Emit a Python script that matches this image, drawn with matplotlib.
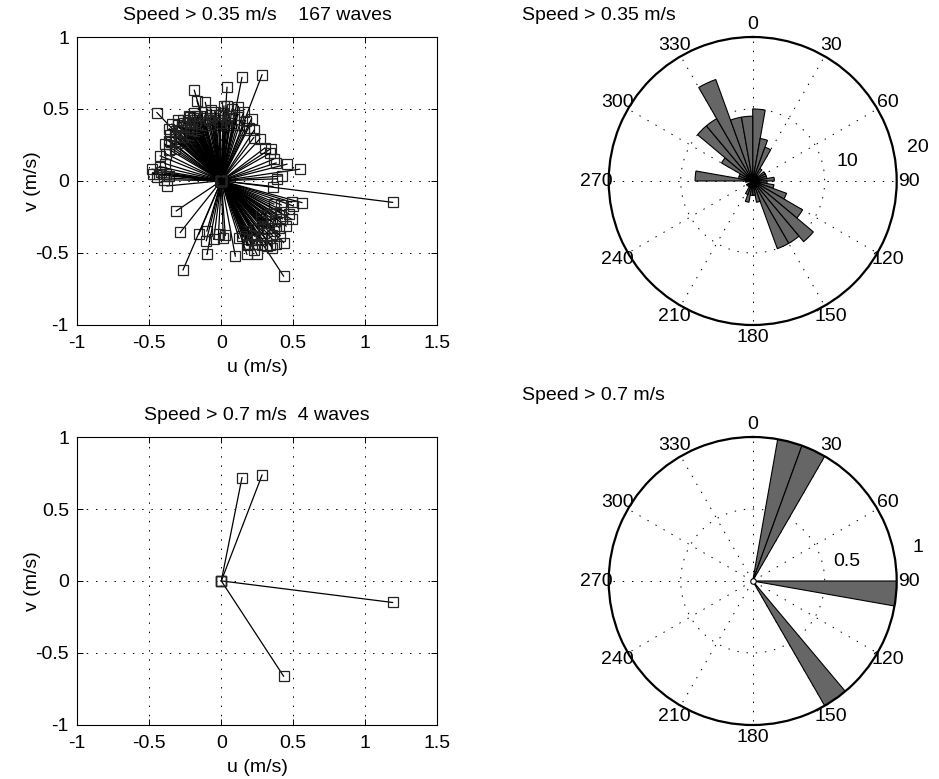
import numpy as np
import matplotlib
matplotlib.use("Agg")
import matplotlib.pyplot as plt

plt.rcParams['font.family'] = ['Liberation Sans', 'DejaVu Sans']
plt.rcParams['axes.unicode_minus'] = False

# Wave propagation direction (deg, clockwise from north) and speed (m/s),
# grouped by 10-degree direction bin.
direction = [
    3.5, 4.4, 8.5, 1.5, 3, 5, 6, 7.5, 2, 9,                       # 0-10
    11.3, 12, 14, 16, 18, 13,                                     # 10-20
    21, 27.2, 22, 24, 26,                                         # 20-30
    36.9, 33,                                                     # 30-40
    42.6,                                                         # 40-50
    53, 57,                                                       # 50-60
    60.4, 67.5,                                                   # 60-70
    75.8, 72,                                                     # 70-80
    81.6, 85.4, 88,                                               # 80-90
    96.4, 97.2,                                                   # 90-100
    105.2, 109.3, 107,                                            # 100-110
    118.7, 112, 114, 116, 118,                                    # 110-120
    123.5, 121, 122, 124, 125, 127, 128, 129,                     # 120-130
    134.8, 133.9, 131, 132, 133, 135, 136, 137, 138, 139, 131.5,  # 130-140
    146.9, 142.9, 141, 142.5, 143, 145, 146, 147, 148, 149,       # 140-150
    154.2, 151, 152, 153, 154, 155, 156, 157, 158, 159,           # 150-160
    169.5, 160.8, 163,                                            # 160-170
    175.8, 178,                                                   # 170-180
    187.4, 183,                                                   # 180-190
    196.0, 191.0, 194,                                            # 190-200
    202.8, 203.2,                                                 # 200-210
    218.4,                                                        # 210-220
    236.1,                                                        # 230-240
    264.5,                                                        # 260-270
    279.5, 275.3, 275.9, 271, 273, 276, 278, 277,                 # 270-280
    283, 287,                                                     # 280-290
    292.2, 296,                                                   # 290-300
    307.1, 301, 303, 305, 308,                                    # 300-310
    316.7, 319.0, 311, 312, 313, 314, 315, 317, 318, 319.5,       # 310-320
    327.3, 321, 322, 323, 324, 325, 326, 327, 328, 329,           # 320-330
    334.0, 330.5, 331, 332, 333, 333.5, 334.5, 335, 336, 336.5,
    337, 338, 338.5, 339, 339.5,                                  # 330-340
    343.4, 343.1, 348.5, 341, 342, 344, 345, 347, 349,            # 340-350
    350.5, 351, 352, 353, 354, 355, 357, 358, 359,                # 350-360
]
speed = [
    0.651, 0.522, 0.503, 0.47, 0.42, 0.39, 0.45, 0.44, 0.52, 0.41,
    0.733, 0.44, 0.47, 0.40, 0.50, 0.53,
    0.79, 0.416, 0.45, 0.39, 0.48,
    0.375, 0.42,
    0.399,
    0.38, 0.41,
    0.392, 0.393,
    0.470, 0.40,
    0.550, 0.422, 0.39,
    0.361, 1.199,
    0.580, 0.530, 0.51,
    0.558, 0.45, 0.40, 0.52, 0.47,
    0.486, 0.44, 0.50, 0.41, 0.55, 0.47, 0.39, 0.52,
    0.610, 0.504, 0.43, 0.49, 0.56, 0.40, 0.46, 0.52, 0.44, 0.58, 0.37,
    0.792, 0.584, 0.47, 0.56, 0.42, 0.55, 0.49, 0.40, 0.53, 0.45,
    0.569, 0.43, 0.50, 0.46, 0.39, 0.53, 0.44, 0.48, 0.48, 0.41,
    0.533, 0.542, 0.42,
    0.381, 0.40,
    0.411, 0.37,
    0.364, 0.522, 0.43,
    0.405, 0.675,
    0.459,
    0.377,
    0.379,
    0.487, 0.368, 0.437, 0.40, 0.45, 0.48, 0.42, 0.39,
    0.44, 0.41,
    0.458, 0.43,
    0.459, 0.42, 0.47, 0.39, 0.44,
    0.652, 0.522, 0.42, 0.48, 0.39, 0.45, 0.51, 0.43, 0.47, 0.40,
    0.481, 0.44, 0.49, 0.41, 0.46, 0.52, 0.38, 0.45, 0.50, 0.42,
    0.490, 0.43, 0.47, 0.40, 0.45, 0.50, 0.38, 0.44, 0.48, 0.41,
    0.46, 0.51, 0.39, 0.44, 0.48,
    0.657, 0.581, 0.556, 0.42, 0.47, 0.40, 0.45, 0.49, 0.43,
    0.41, 0.46, 0.50, 0.39, 0.44, 0.48, 0.42, 0.46, 0.40,
]

speed_limits = [0.35, 0.7]
rose_rings = [[10, 20], [0.5, 1]]
bin_width = 10
u_ticks = [-1, -0.5, 0, 0.5, 1, 1.5]
v_ticks = [-1, -0.5, 0, 0.5, 1]
angle_ticks = list(range(0, 360, 30))

direction = np.asarray(direction, float)
speed = np.asarray(speed, float)
u_all = speed * np.sin(np.deg2rad(direction))
v_all = speed * np.cos(np.deg2rad(direction))

W, H = 939, 779
fig = plt.figure(figsize=(W / 100, H / 100), dpi=100)


def px_axes(left, top, right, bottom, **kw):
    return fig.add_axes([left / W, 1 - bottom / H, (right - left) / W,
                         (bottom - top) / H], **kw)


DOT = (0, (1.5, 8))
FS = 14


def vector_panel(ax, u, v, title):
    ax.grid(True, linestyle=DOT, color='k', lw=0.7, zorder=0)
    ax.set_axisbelow(True)
    for ui, vi in zip(u, v):
        ax.plot([0, ui], [0, vi], color='k', lw=0.9, marker='s', ms=6.5,
                mfc='none', mec='#222222', mew=0.9, zorder=2)
    ax.set_xlim(-1, 1.5)
    ax.set_ylim(-1, 1)
    ax.set_xticks(u_ticks)
    ax.set_yticks(v_ticks)
    ax.set_xticklabels([f"{t:g}" for t in u_ticks])
    ax.set_yticklabels([f"{t:g}" for t in v_ticks])
    ax.tick_params(direction='in', top=True, right=True, length=4,
                   width=0.7, labelsize=FS)
    ax.tick_params(axis='x', pad=7.5)
    ax.tick_params(axis='y', pad=6)
    for s in ax.spines.values():
        s.set_linewidth(0.8)
    ax.set_xlabel('u (m/s)', fontsize=FS, labelpad=5)
    ax.set_ylabel('v (m/s)', fontsize=FS, labelpad=-4)
    ax.text(0.5, 1 + 22 / 287.5, title, transform=ax.transAxes,
            ha='center', va='center', fontsize=FS)


def rose_panel(ax, dirs, rings, center_mark):
    rmax = rings[-1]
    edges = np.arange(0, 360 + bin_width, bin_width)
    counts, _ = np.histogram(np.mod(dirs, 360), bins=edges)
    ax.set_theta_zero_location('N')
    ax.set_theta_direction(-1)
    ax.grid(False)
    ax.set_xticks([])
    ax.set_yticks([])
    ax.spines['polar'].set_linewidth(1.6)
    t = np.linspace(0, 2 * np.pi, 400)
    for r in rings[:-1]:
        ax.plot(t, np.full_like(t, r), ls=DOT, color='k', lw=0.7, zorder=1)
    for a in angle_ticks:
        ax.plot([np.deg2rad(a)] * 2, [0, rmax], ls=DOT, color='k', lw=0.7,
                zorder=1)
    nz = counts > 0
    ax.bar(np.deg2rad(edges[:-1][nz]), counts[nz],
           width=np.deg2rad(bin_width), align='edge', color='#666666',
           edgecolor='k', linewidth=0.8, zorder=2)
    if center_mark:
        ax.plot([0], [0], marker='o', ms=4, mfc='white', mec='k', mew=0.8,
                zorder=3, clip_on=False)
    ax.set_ylim(0, rmax)
    for a in angle_ticks:
        ax.text(np.deg2rad(a), 1.085 * rmax, str(a), ha='center',
                va='center', fontsize=FS)
    for r in rings:
        ax.text(np.deg2rad(78.5), r + 0.17 * rmax, f"{r:g}", ha='center',
                va='center', fontsize=FS)


panels = [
    # (limit, scatter box, rose box, left title y, right title y, gap)
    (speed_limits[0], (77.3, 37, 437.3, 324.5), (608.7, 37, 896.7, 325),
     15, 15, 4),
    (speed_limits[1], (77.3, 437.3, 437.3, 724.5), (608.7, 437, 896.7, 725),
     415, 395, 2),
]

for i, (lim, sbox, rbox, ty_l, ty_r, gap) in enumerate(panels):
    sel = speed > lim
    n = int(sel.sum())
    ax = px_axes(*sbox)
    title = f"Speed > {lim:g} m/s" + " " * gap + f"{n} waves"
    vector_panel(ax, u_all[sel], v_all[sel], title)
    pax = px_axes(*rbox, projection='polar')
    rose_panel(pax, direction[sel], rose_rings[i], center_mark=(i == 1))
    fig.text(522 / W, 1 - ty_r / H, f"Speed > {lim:g} m/s", ha='left',
             va='center', fontsize=FS)

fig.savefig('out.png', dpi=100)
